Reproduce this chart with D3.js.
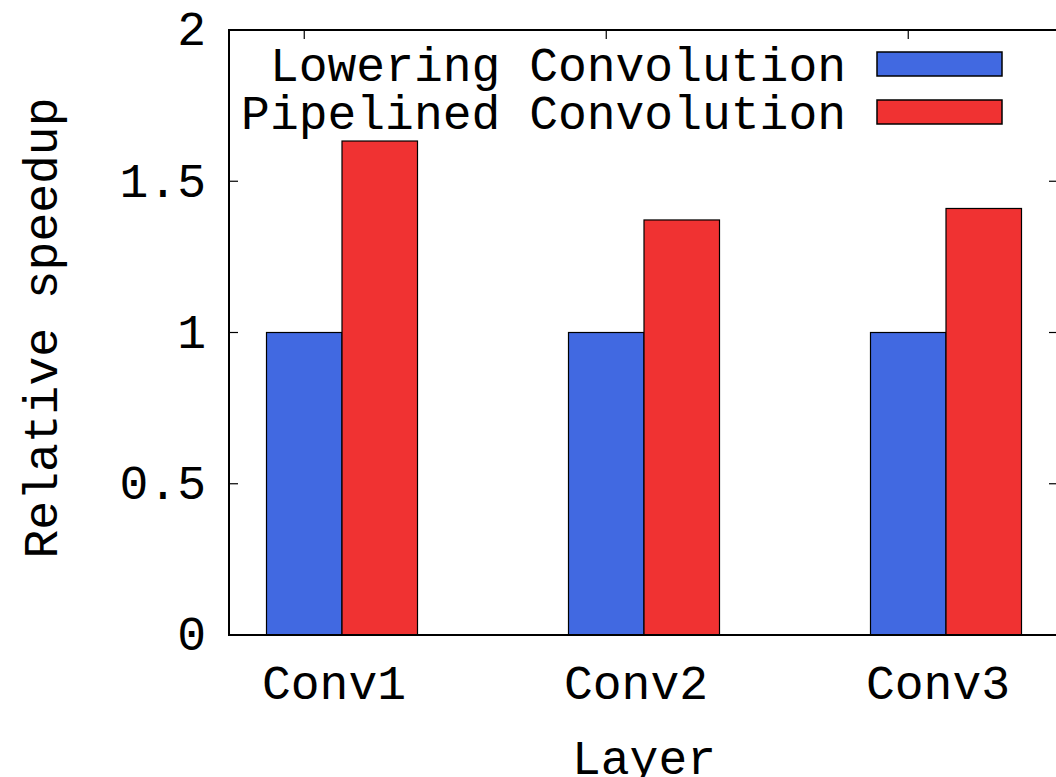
<!DOCTYPE html>
<html><head><meta charset="utf-8">
<script src="https://cdn.jsdelivr.net/npm/d3@7"></script>
<style>body{margin:0;background:#fff;overflow:hidden}svg{display:block}</style>
</head><body>
<svg id="c" width="1056" height="777"></svg>
<script>
const categories = ["Conv1", "Conv2", "Conv3"];
const seriesNames = ["Lowering Convolution", "Pipelined Convolution"];
const lowering = [1.0, 1.0, 1.0];
const pipelined = [1.633, 1.372, 1.41];
const yTicks = [0, 0.5, 1, 1.5, 2];
const yTickLabels = ["0", "0.5", "1", "1.5", "2"];
const colors = ["#4169E1", "#F03232"];

const svg = d3.select("#c");
const font = "'Liberation Mono', 'Courier New', monospace";
const fs = 48;
const L = 229, T = 30, B = 635, R = 1058;

const y = d3.scaleLinear().domain([0, 2]).range([B, T]);
const x0 = d3.scaleBand().domain(categories).range([191, 1097]).paddingInner(0.5).paddingOuter(0.25);
const x1 = d3.scaleBand().domain(seriesNames).range([0, x0.bandwidth()]);

const data = categories.map((c, i) => ({c, vals: [lowering[i], pipelined[i]]}));

// bars
const g = svg.append("g");
data.forEach(d => {
  d.vals.forEach((v, j) => {
    g.append("rect")
      .attr("x", x0(d.c) + x1(seriesNames[j]))
      .attr("y", y(v))
      .attr("width", x1.bandwidth())
      .attr("height", y(0) - y(v))
      .attr("fill", colors[j])
      .attr("stroke", "#000")
      .attr("stroke-width", 1.2);
  });
});

// border
svg.append("rect").attr("x", L).attr("y", T).attr("width", R - L).attr("height", B - T)
  .attr("fill", "none").attr("stroke", "#000").attr("stroke-width", 2);

// y ticks
yTicks.forEach((t, i) => {
  if (t > 0 && t < 2) {
    svg.append("line").attr("x1", L).attr("x2", L + 9).attr("y1", y(t)).attr("y2", y(t)).attr("stroke", "#000").attr("stroke-width", 1.2);
    svg.append("line").attr("x1", R - 9).attr("x2", R).attr("y1", y(t)).attr("y2", y(t)).attr("stroke", "#000").attr("stroke-width", 1.2);
  }
  svg.append("text").attr("x", 206).attr("y", y(t)).attr("dy", "0.32em")
    .attr("text-anchor", "end").attr("font-family", font).attr("font-size", fs)
    .text(yTickLabels[i]);
});

// x top ticks & labels
categories.forEach(c => {
  const tx = x0(c) + x1.bandwidth() / 2;
  svg.append("line").attr("x1", tx).attr("x2", tx).attr("y1", T).attr("y2", T + 9).attr("stroke", "#000").attr("stroke-width", 1.2);
  svg.append("text").attr("x", x0(c) + x0.bandwidth() / 2 - 8).attr("y", 699)
    .attr("text-anchor", "middle").attr("font-family", font).attr("font-size", fs).text(c);
});

// axis titles
svg.append("text").attr("transform", "translate(57,328) rotate(-90)")
  .attr("text-anchor", "middle").attr("font-family", font).attr("font-size", fs).text("Relative speedup");
svg.append("text").attr("x", 644).attr("y", 774)
  .attr("text-anchor", "middle").attr("font-family", font).attr("font-size", fs).text("Layer");

// legend
const legY = [64, 112];
seriesNames.forEach((s, j) => {
  svg.append("text").attr("x", 846).attr("y", legY[j]).attr("dy", "0.35em")
    .attr("text-anchor", "end").attr("font-family", font).attr("font-size", fs).text(s);
  svg.append("rect").attr("x", 877).attr("y", legY[j] - 12).attr("width", 125).attr("height", 24)
    .attr("fill", colors[j]).attr("stroke", "#000").attr("stroke-width", 1.5);
});
</script>
</body></html>
